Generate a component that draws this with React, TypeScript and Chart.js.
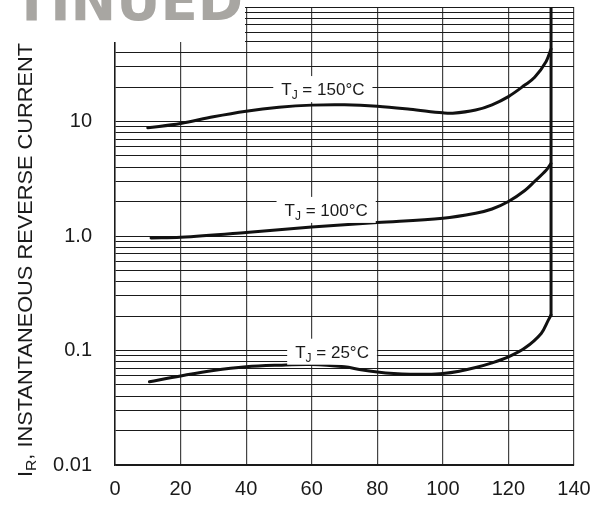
import React, { useEffect, useRef } from "react";
import { Chart, registerables } from "chart.js";

Chart.register(...registerables);

// ---- data ----
const xTickValues = [0, 20, 40, 60, 80, 100, 120, 140];
const yLabelValues = [0.01, 0.1, 1, 10];
const yLabelTexts = ["0.01", "0.1", "1.0", "10"];
const yDecades = [0.01, 0.1, 1, 10];

const t150X = [10, 20, 30, 40, 50, 60, 70, 80, 90, 100, 103, 110, 115, 120, 125, 128, 131.5, 133];
const t150Y = [8.8, 9.6, 11.0, 12.3, 13.3, 13.9, 14.0, 13.6, 12.8, 11.9, 11.8, 12.6, 14.0, 16.5, 20.8, 24.3, 33.5, 43];

const t100X = [11, 20, 40, 60, 80, 100, 110, 115, 120, 125, 128, 131.5, 133];
const t100Y = [0.96, 0.975, 1.075, 1.2, 1.31, 1.43, 1.58, 1.72, 2.0, 2.5, 3.0, 3.75, 4.3];

const t25X = [10.5, 20, 30, 40, 50, 60, 70, 75, 80, 85, 90, 95, 100, 105, 110, 115, 120, 125, 130, 132.2, 133];
const t25Y = [0.0534, 0.06, 0.067, 0.0722, 0.0745, 0.0755, 0.072, 0.068, 0.065, 0.063, 0.062, 0.062, 0.063, 0.066, 0.071, 0.078, 0.088, 0.105, 0.141, 0.185, 0.204];

const breakdownX = [133, 133];
const breakdownY = [0.204, 100];

const curveLabels = ["150°C", "100°C", "25°C"];
const curveLabelX = [63.4, 64.4, 66.2];
const curveLabelY = [19.2, 1.69, 0.0976];

const yTitleMain = "I";
const yTitleSub = "R";
const yTitleRest = ", INSTANTANEOUS REVERSE CURRENT";
const cornerText = "TINUED";

const FONT = "'Liberation Sans', Arial, Helvetica, sans-serif";

function pts(xs: number[], ys: number[]) {
  return xs.map((x, i) => ({ x, y: ys[i] }));
}

const overlayPlugin = {
  id: "overlay",
  afterDatasetsDraw(chart: any) {
    const ctx = chart.ctx as CanvasRenderingContext2D;
    const xs = chart.scales.x;
    const ys = chart.scales.y;
    ctx.save();
    const mainFont = `17px ${FONT}`;
    const subFont = `12px ${FONT}`;
    curveLabels.forEach((txt, i) => {
      const cx = xs.getPixelForValue(curveLabelX[i]);
      const cy = ys.getPixelForValue(curveLabelY[i]);
      ctx.font = mainFont;
      const wT = ctx.measureText("T").width;
      const rest = " = " + txt;
      const wR = ctx.measureText(rest).width;
      ctx.font = subFont;
      const wJ = ctx.measureText("J").width;
      const total = wT + wJ + wR;
      ctx.fillStyle = "#fff";
      ctx.fillRect(cx - total / 2 - 8, cy - 13, total + 16, 26);
      ctx.fillStyle = "#1a1a1a";
      ctx.textBaseline = "alphabetic";
      ctx.textAlign = "left";
      const base = cy + 6;
      let x0 = cx - total / 2;
      ctx.font = mainFont;
      ctx.fillText("T", x0, base);
      x0 += wT;
      ctx.font = subFont;
      ctx.fillText("J", x0, base + 4);
      x0 += wJ;
      ctx.font = mainFont;
      ctx.fillText(rest, x0, base);
    });

    // top-left white box with cut heading
    ctx.fillStyle = "#fff";
    ctx.fillRect(0, 0, 245, 42);
    ctx.fillStyle = "#a8a6a2";
    ctx.font = `bold 56px 'Liberation Sans Narrow', 'DejaVu Sans Condensed', ${FONT}`;
    const w = ctx.measureText(cornerText).width;
    ctx.save();
    ctx.translate(13, 20);
    ctx.scale(230 / w, 1);
    ctx.textBaseline = "alphabetic";
    ctx.fillText(cornerText, 0, 0);
    ctx.restore();

    // y axis title
    ctx.fillStyle = "#1a1a1a";
    const fs = 21;
    ctx.font = `${fs}px ${FONT}`;
    const wI = ctx.measureText(yTitleMain).width;
    const wRest = ctx.measureText(yTitleRest).width;
    ctx.font = `${fs * 0.72}px ${FONT}`;
    const wSub = ctx.measureText(yTitleSub).width;
    const totalLen = wI + wSub + wRest;
    const scale = 434 / totalLen;
    ctx.save();
    ctx.translate(31.5, 477);
    ctx.rotate(-Math.PI / 2);
    ctx.scale(scale, 1);
    ctx.textBaseline = "alphabetic";
    ctx.textAlign = "left";
    ctx.font = `${fs}px ${FONT}`;
    ctx.fillText(yTitleMain, 0, 0);
    ctx.font = `${fs * 0.72}px ${FONT}`;
    ctx.fillText(yTitleSub, wI, 4);
    ctx.font = `${fs}px ${FONT}`;
    ctx.fillText(yTitleRest, wI + wSub, 0);
    ctx.restore();
    ctx.restore();
  },
};

export default function App() {
  const ref = useRef<HTMLCanvasElement | null>(null);
  useEffect(() => {
    if (!ref.current) return;
    const lineStyle = {
      borderColor: "#111",
      borderWidth: 3,
      pointRadius: 0,
      fill: false,
      showLine: true,
      borderJoinStyle: "round",
      borderCapStyle: "round",
    };
    const yTickList: number[] = [];
    yDecades.forEach((d) => {
      for (let k = 1; k <= 9; k++) yTickList.push(+(k * d).toPrecision(3));
    });
    yTickList.push(100);
    const chart = new Chart(ref.current, {
      type: "scatter",
      data: {
        datasets: [
          { ...lineStyle, label: "150", data: pts(t150X, t150Y), tension: 0.35 } as any,
          { ...lineStyle, label: "100", data: pts(t100X, t100Y), tension: 0.35 } as any,
          { ...lineStyle, label: "25", data: pts(t25X, t25Y), tension: 0.35 } as any,
          { ...lineStyle, label: "bd", data: pts(breakdownX, breakdownY), tension: 0 } as any,
        ],
      },
      options: {
        responsive: false,
        animation: false,
        devicePixelRatio: 1,
        layout: { padding: { top: 7, right: 27, left: 0, bottom: 0 } },
        plugins: { legend: { display: false }, tooltip: { enabled: false } },
        scales: {
          x: {
            type: "linear",
            min: 0,
            max: 140,
            afterBuildTicks: (s: any) => {
              s.ticks = xTickValues.map((v) => ({ value: v }));
            },
            afterFit: (s: any) => {
              s.height = 41;
              s.paddingLeft = 0;
              s.paddingRight = 0;
            },
            ticks: {
              autoSkip: false,
              maxRotation: 0,
              padding: 12,
              color: "#1a1a1a",
              font: { family: FONT, size: 20 },
              callback: (v: any) => String(v),
            },
            grid: { color: "#444", lineWidth: 1.2, drawTicks: false },
            border: { color: "#1a1a1a", width: 1.5 },
          },
          y: {
            type: "logarithmic",
            min: 0.01,
            max: 100,
            afterBuildTicks: (s: any) => {
              s.ticks = yTickList.map((v) => ({ value: v }));
            },
            afterFit: (s: any) => {
              s.width = 115;
              s.paddingTop = 0;
              s.paddingBottom = 0;
            },
            ticks: {
              autoSkip: false,
              padding: 23,
              color: "#1a1a1a",
              font: { family: FONT, size: 20 },
              callback: (v: any) => {
                const i = yLabelValues.findIndex((t) => Math.abs(t - v) / t < 1e-6);
                return i >= 0 ? yLabelTexts[i] : "";
              },
            },
            grid: { color: "#1a1a1a", lineWidth: 1, drawTicks: false },
            border: { color: "#1a1a1a", width: 1.5 },
          },
        },
      },
      plugins: [overlayPlugin],
    });
    return () => chart.destroy();
  }, []);
  return (
    <div style={{ position: "fixed", left: 0, top: 0, width: 601, height: 506, background: "#fff" }}>
      <canvas ref={ref} width={601} height={506} style={{ display: "block" }} />
    </div>
  );
}
